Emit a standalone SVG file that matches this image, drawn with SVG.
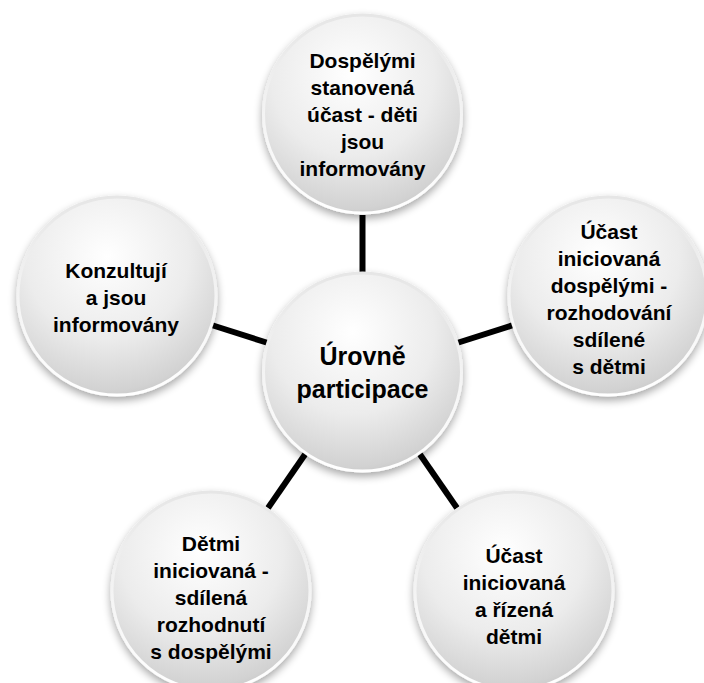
<svg xmlns="http://www.w3.org/2000/svg" width="704" height="683" viewBox="0 0 704 683">
<defs>
<radialGradient id="ball" cx="0.45" cy="0.3" r="0.75">
<stop offset="0" stop-color="#ffffff"/>
<stop offset="0.55" stop-color="#ececec"/>
<stop offset="0.9" stop-color="#d2d2d2"/>
<stop offset="1" stop-color="#c4c4c4"/>
</radialGradient>
<linearGradient id="rim" x1="0" y1="0" x2="0" y2="1">
<stop offset="0" stop-color="#e6e6e6"/>
<stop offset="0.6" stop-color="#f6f6f6"/>
<stop offset="1" stop-color="#ffffff"/>
</linearGradient>
<filter id="shadow" x="-30%" y="-30%" width="160%" height="160%">
<feGaussianBlur in="SourceAlpha" stdDeviation="4"/>
<feOffset dx="0" dy="4" result="b"/>
<feComponentTransfer><feFuncA type="linear" slope="0.35"/></feComponentTransfer>
<feMerge><feMergeNode/><feMergeNode in="SourceGraphic"/></feMerge>
</filter>
</defs>
<style>
.ball{fill:url(#ball);stroke:url(#rim);stroke-width:3;filter:url(#shadow)}
.t{font-family:"Liberation Sans",Arial,sans-serif;font-weight:bold;font-size:21px;fill:#000;text-anchor:middle}
.tc{font-size:25px}
.conn{stroke:#000;stroke-width:6;fill:none}
</style>
<g id="connectors">
<line class="conn" x1="362.5" y1="215" x2="362.5" y2="274"/>
<line class="conn" x1="211.5" y1="325" x2="268" y2="343"/>
<line class="conn" x1="513.5" y1="325" x2="457" y2="343"/>
<line class="conn" x1="306" y1="453" x2="268" y2="508"/>
<line class="conn" x1="419" y1="453" x2="457" y2="508"/>
</g>
<g id="node-top">
<circle class="ball" cx="362.5" cy="114" r="99"/>
<text class="t" x="362.5" y="68">Dospělými</text>
<text class="t" x="362.5" y="95">stanovená</text>
<text class="t" x="362.5" y="122">účast - děti</text>
<text class="t" x="362.5" y="149">jsou</text>
<text class="t" x="362.5" y="176">informovány</text>
</g>
<g id="node-right">
<circle class="ball" cx="608" cy="296" r="99"/>
<text class="t" x="609" y="239">Účast</text>
<text class="t" x="609" y="266">iniciovaná</text>
<text class="t" x="609" y="293">dospělými -</text>
<text class="t" x="609" y="320">rozhodování</text>
<text class="t" x="609" y="347">sdílené</text>
<text class="t" x="609" y="374">s dětmi</text>
</g>
<g id="node-left">
<circle class="ball" cx="117" cy="296" r="99"/>
<text class="t" x="116" y="278">Konzultují</text>
<text class="t" x="116" y="305">a jsou</text>
<text class="t" x="116" y="332">informovány</text>
</g>
<g id="node-bottom-left">
<circle class="ball" cx="211" cy="591" r="99"/>
<text class="t" x="211" y="551">Dětmi</text>
<text class="t" x="211" y="578">iniciovaná -</text>
<text class="t" x="211" y="605">sdílená</text>
<text class="t" x="211" y="632">rozhodnutí</text>
<text class="t" x="211" y="659">s dospělými</text>
</g>
<g id="node-bottom-right">
<circle class="ball" cx="514" cy="591" r="99"/>
<text class="t" x="514" y="563">Účast</text>
<text class="t" x="514" y="590">iniciovaná</text>
<text class="t" x="514" y="617">a řízená</text>
<text class="t" x="514" y="644">dětmi</text>
</g>
<g id="node-center">
<circle class="ball" cx="362.5" cy="372" r="99"/>
<text class="t tc" x="362.5" y="365">Úrovně</text>
<text class="t tc" x="362.5" y="398">participace</text>
</g>
</svg>
